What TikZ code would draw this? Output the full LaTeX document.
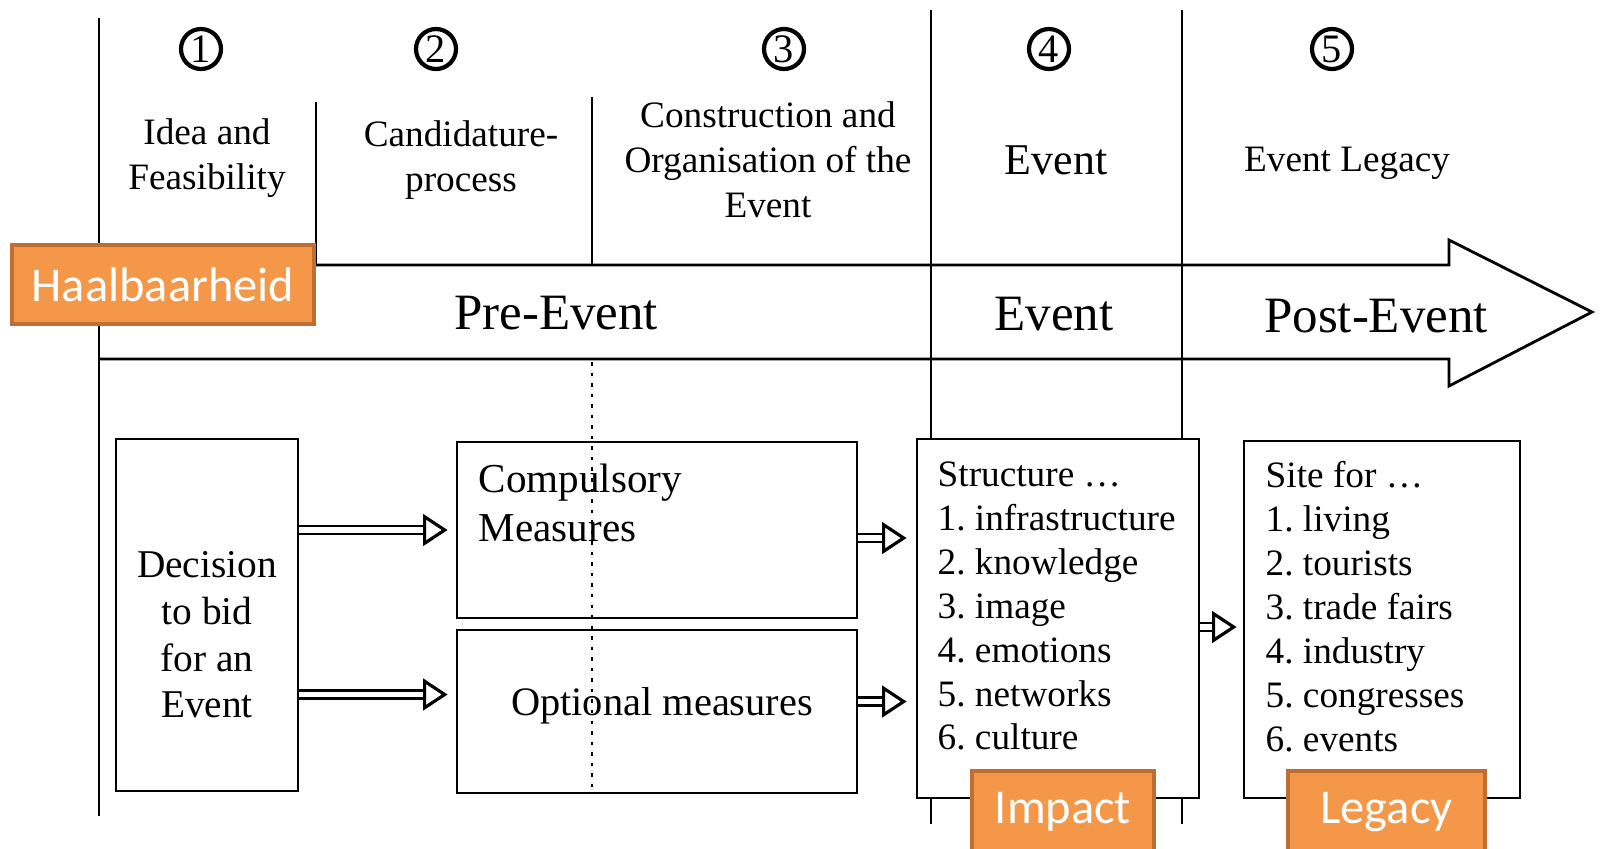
\documentclass[tikz,border=0pt]{standalone}
\usepackage{fontspec}
\setmainfont{Liberation Serif}
\newfontfamily\tagfont{Carlito}
\usetikzlibrary{arrows.meta, calc}
\frenchspacing

\definecolor{tagfill}{RGB}{245,151,72}
\definecolor{tagline}{RGB}{190,110,50}

\tikzset{
  box/.style={draw, line width=0.8pt, fill=white, inner sep=0pt},
  tag/.style={draw=tagline, line width=1.3pt, fill=tagfill, text=white, inner sep=0pt, font=\tagfont\fontsize{13.8}{16}\selectfont},
  num/.style={circle, draw, line width=1.2pt, minimum size=0.40cm, inner sep=0pt, font=\fontsize{11.5}{11.5}\selectfont},
  head/.style={align=center, font=\fontsize{10.6}{12.8}\selectfont},
  phase/.style={font=\fontsize{14.5}{16}\selectfont},
  list/.style={align=left, anchor=north west, inner sep=0pt, font=\fontsize{10.6}{12.5}\selectfont},
  dbl/.style={double, double distance=1.6pt, line width=0.7pt, -{Triangle[open, length=7pt, width=9pt, line width=0.9pt]}},
}

\begin{document}
\begin{tikzpicture}[x=1cm, y=-1cm]
\useasboundingbox (0,0) rectangle (16,8.48);

% lines
\draw[line width=0.6pt] (0.99,0.18) -- (0.99,8.16);
\draw[line width=0.6pt] (3.16,1.02) -- (3.16,2.65);
\draw[line width=0.6pt] (5.92,0.97) -- (5.92,2.65);
\draw[line width=0.6pt] (9.31,0.10) -- (9.31,8.24);
\draw[line width=0.6pt] (11.82,0.10) -- (11.82,8.24);

% big arrow
\draw[line width=0.8pt] (0.99,3.59) -- (14.49,3.59) -- (14.49,3.86) -- (15.92,3.12)
  -- (14.49,2.40) -- (14.49,2.65) -- (3.16,2.65);

% nodes
\node[num] (N1) at (2.01,0.49) {1};
\node[num] (N2) at (4.36,0.49) {2};
\node[num] (N3) at (7.84,0.49) {3};
\node[num] (N4) at (10.49,0.49) {4};
\node[num] (N5) at (13.32,0.49) {5};

\node[head] (T1) at (2.07,1.58) {Idea and\\Feasibility};
\node[head] (T2) at (4.61,1.60) {Candidature-\\process};
\node[head] (T3) at (7.68,1.60) {Construction and\\Organisation of the\\Event};
\node[head, font=\fontsize{12.5}{14}\selectfont] (T4) at (10.56,1.60) {Event};
\node[head] (T5) at (13.47,1.63) {Event Legacy};

\node[tag, minimum width=3.02cm, minimum height=0.79cm] (H) at (1.63,2.845) {Haalbaarheid};

\node[phase] (P1) at (5.56,3.13) {Pre-Event};
\node[phase] (P2) at (10.54,3.14) {Event};
\node[phase] (P3) at (13.76,3.16) {Post-Event};

\node[box, minimum width=1.82cm, minimum height=3.52cm] (D) at (2.07,6.15) {};
\node[align=center, font=\fontsize{11.2}{13.3}\selectfont] (Dt) at (2.07,6.35) {Decision\\to bid\\for an\\Event};

\node[box, minimum width=4.00cm, minimum height=1.76cm] (C) at (6.57,5.30) {};
\node[list, font=\fontsize{11.7}{13.9}\selectfont] (Ct) at (4.78,4.63) {Compulsory\\Measures};

\node[box, minimum width=4.00cm, minimum height=1.63cm] (O) at (6.57,7.115) {};
\node[font=\fontsize{11.5}{13}\selectfont] (Ot) at (6.62,7.06) {Optional measures};

\node[box, minimum width=2.82cm, minimum height=3.59cm] (S) at (10.58,6.185) {};
\node[list] (St) at (9.37,4.61) {Structure \dots\\1. infrastructure\\2. knowledge\\3. image\\4. emotions\\5. networks\\6. culture};

\node[box, minimum width=2.76cm, minimum height=3.57cm] (L) at (13.82,6.195) {};
\node[list] (Lt) at (12.65,4.61) {Site for \dots\\1. living\\2. tourists\\3. trade fairs\\4. industry\\5. congresses\\6. events};

\node[tag, minimum width=1.82cm, minimum height=0.82cm] (I) at (10.63,8.12) {Impact};
\node[tag, minimum width=1.97cm, minimum height=0.82cm] (G) at (13.865,8.12) {Legacy};

% dotted divider
\draw[line width=0.5pt, dash pattern=on 1pt off 2pt] (5.92,3.62) -- (5.92,7.91);

% arrows
\draw[dbl] (D.east |- C.west) -- ($(C.west)+(-0.08,0)$);
\draw[dbl] ($(D.east |- O.west)+(0,-0.17)$) -- ($(O.west)+(-0.08,-0.17)$);
\draw[dbl] ($(C.east)+(0,0.08)$) -- ($(C.east -| S.west)+(-0.09,0.08)$);
\draw[dbl] ($(O.east)+(0,-0.1)$) -- ($(O.east -| S.west)+(-0.09,-0.1)$);
\draw[dbl] ($(S.east)+(0,0.085)$) -- ($(S.east -| L.west)+(-0.06,0.085)$);

\end{tikzpicture}
\end{document}
